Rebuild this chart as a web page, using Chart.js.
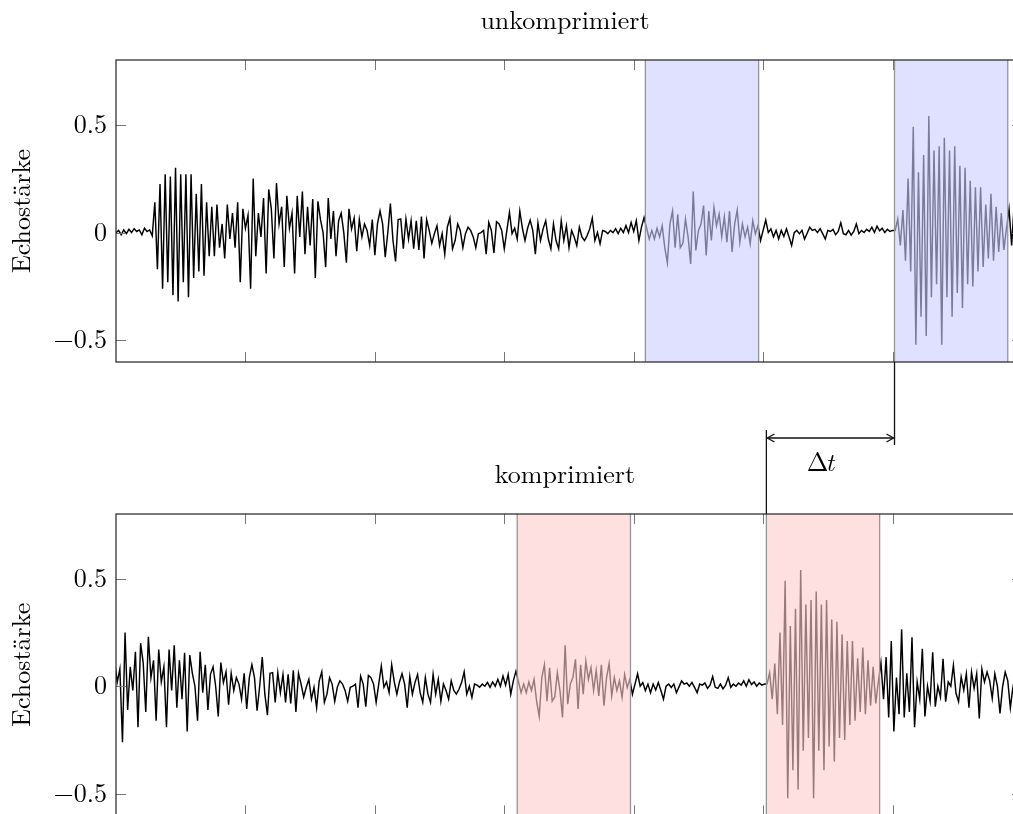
<!DOCTYPE html>
<html>
<head>
<meta charset="utf-8">
<script src="https://cdn.jsdelivr.net/npm/chart.js@4.4.1/dist/chart.umd.min.js"></script>
<style>
html, body { margin:0; padding:0; background:#fff; }
body { width:1013px; height:814px; overflow:hidden; position:relative; }
canvas { position:absolute; left:0; }
#topChart { top:0; }
#bottomChart { top:440px; }
</style>
</head>
<body>
<canvas id="topChart" width="1040" height="520"></canvas>
<canvas id="bottomChart" width="1040" height="400"></canvas>
<script>
// echo signal, one sample every sampleStep (time units of the x axis)
var echoSamples = [
  0, 0.01, -0.01, 0.012, -0.005, 0.015, 0, 0.018, 0.005, 0.012, -0.01, 0.02, 0.005, 0.012, -0.015,
  0.14, -0.17, 0.225, -0.26, 0.27, -0.23, 0.26, -0.29, 0.3, -0.32, 0.27, -0.23, 0.27, -0.3, 0.27, -0.21, 0.18, -0.18, 0.225, -0.2,
  0.14, -0.11, 0.12, -0.11, 0.13, -0.07, 0.04, -0.12, 0.13, -0.03, 0.09, -0.07, 0.14, -0.23, 0.11, 0.02, 0.08, -0.26, 0.25, -0.11,
  0.09, -0.02, 0.16, -0.19, 0.2, 0.11, -0.12, 0.23, 0.04, 0.12, -0.16, 0.17, 0.02, 0.09, -0.19, 0.17, -0.02, 0.19, -0.1, 0.12,
  -0.06, 0.155, -0.21, 0.145, 0.06, 0, -0.16, 0.16, -0.03, 0.1, -0.11, 0.055, 0.09, 0, -0.14, 0.11, 0.017, 0.067, -0.086, 0.06,
  -0.02, 0.04, 0.01, -0.06, 0.06, -0.105, 0.04, 0.1, 0.04, -0.114, 0, 0.135, -0.037, -0.134, 0.06, 0.063, -0.075, 0.063, -0.03, 0.055,
  -0.075, 0.055, -0.08, 0.074, -0.12, 0.06, 0.01, -0.05, -0.005, 0.032, -0.06, -0.005, -0.1, 0.025, 0.067, -0.075, -0.037, 0.04, 0.01, -0.07,
  -0.005, 0.025, 0.01, -0.02, -0.07, -0.005, 0, 0.01, -0.1, 0.047, 0.01, -0.095, 0.05,
  0.04, 0.01, -0.075, 0.01, 0.094, -0.005, 0.02, -0.03, 0.1, 0.02, -0.037, 0.02, 0.058, 0.01, -0.1, 0.045, -0.037, 0.017, 0.055, -0.03,
  -0.075, 0.04, -0.037, -0.075, 0.055, -0.037, 0.032, -0.07, 0.01, -0.02, -0.06, 0.025, -0.02, -0.037, -0.014, 0.017, 0.067, -0.037, 0, -0.052,
  0.01, 0.005, -0.005, 0.01, 0, 0.018, -0.005, 0.02, 0, 0.032, 0, 0.047, 0.005, 0.055, -0.037, 0.025, 0.07,
  0.02, -0.03, 0.01, -0.03, 0.02, -0.02, 0.032, -0.07, -0.14, 0.04, 0.1, -0.07, 0.085,
  -0.07, -0.05, 0.063, -0.02, -0.145, 0.19, -0.083, 0.01, 0.04, 0.125, -0.106, 0.1, -0.037, 0.117, 0.032, 0.086,
  -0.02, 0.074, -0.045, 0.1, -0.09, 0.04, 0.105, -0.045, 0.04, -0.02, 0.025, -0.052, 0.055, -0.006, 0.032, -0.037,
  0.01, 0.058, 0, 0.017, -0.02, 0.01, -0.03, 0.01, -0.018, 0.017, -0.02, -0.06, 0, 0.01, -0.006, 0.01, -0.03, -0.003, 0.025, 0.01,
  0.015, 0, 0.018, -0.005, -0.03, 0.01, 0.005, 0.015, -0.01, 0.005, 0.045, -0.005, -0.01, 0.01, -0.012, 0.005,
  0.04, -0.005, 0.01, 0, 0.015, 0.005, 0.025, 0, 0.03, 0.008, 0.02, 0, 0.015, 0.005, 0.01,
  0.01, 0.063, -0.06, 0.105, -0.13, 0.25, -0.18, 0.49, -0.52, 0.28, -0.39, 0.36, -0.48, 0.54, -0.3, 0.38, -0.24, 0.4, -0.52, 0.44, -0.3, 0.38,
  -0.39, 0.4, -0.28, 0.31, -0.35, 0.3, -0.24, 0.24, -0.25, 0.21, -0.18, 0.21, -0.16, 0.13, -0.12, 0.18, -0.13, 0.12, -0.09, 0.09, -0.08, 0.02,
  0.11, -0.06, 0.135, -0.145, 0.21, -0.21, 0.04, -0.13, 0.265, -0.145, 0.06, -0.12, 0.227, -0.19, 0.02, -0.06, 0.174, -0.14, 0, -0.07,
  0.158, -0.095, 0, -0.05, 0.127, -0.072, 0.02, 0, 0.097, -0.033, -0.072, 0.043, -0.018, 0.058, -0.1, 0.066, -0.01, 0.058, -0.15, 0.08,
  0.02, 0.066, 0.026, -0.057, 0.058, 0, -0.126, -0.003, 0.066, 0.026, -0.1, -0.003, 0.05, -0.04, 0.03, -0.06
];
var sampleStep = 0.2;
var delay = 9.9;                                   // Δt between the two recordings
var echoRegions = [[40.9, 49.65], [60.15, 68.9]];  // marked echoes, uncompressed time
var xTicks = [0, 10, 20, 30, 40, 50, 60, 70];
var yTicks = [-0.5, 0, 0.5];
var plotTitles = ['unkomprimiert', 'komprimiert'];
var yTitle = 'Echostärke';
var deltaLabel = ['Δ', 't'];

var serif = "'Latin Modern Roman', 'Liberation Serif', 'DejaVu Serif', serif";

function fmtTick(v) {
	return v < 0 ? '\u2212' + String(-v) : String(v);
}

function seg(ctx, x0, y0, x1, y1) {
	ctx.beginPath();
	ctx.moveTo(x0, y0);
	ctx.lineTo(x1, y1);
	ctx.stroke();
}

var decor = {
	id: 'echoDecor',
	afterDatasetsDraw: function(chart, args, opts) {
		var ctx = chart.ctx, a = chart.chartArea, xs = chart.scales.x;
		ctx.save();
		opts.regions.forEach(function(r) {
			var x0 = xs.getPixelForValue(r[0]), x1 = xs.getPixelForValue(r[1]);
			ctx.fillStyle = opts.fill;
			ctx.fillRect(x0, a.top, x1 - x0, a.bottom - a.top);
			ctx.strokeStyle = '#959595';
			ctx.lineWidth = 1.3;
			seg(ctx, x0, a.top, x0, a.bottom);
			seg(ctx, x1, a.top, x1, a.bottom);
		});
		ctx.restore();
	},
	afterDraw: function(chart, args, opts) {
		var ctx = chart.ctx, a = chart.chartArea, xs = chart.scales.x, ys = chart.scales.y;
		ctx.save();
		// inward ticks
		ctx.strokeStyle = '#777';
		ctx.lineWidth = 1;
		xTicks.forEach(function(v) {
			if (v <= xs.min || v >= xs.max) return;
			var px = Math.round(xs.getPixelForValue(v)) + 0.5;
			seg(ctx, px, a.top, px, a.top + 10);
			seg(ctx, px, a.bottom - 10, px, a.bottom);
		});
		yTicks.forEach(function(v) {
			var py = Math.round(ys.getPixelForValue(v)) + 0.5;
			seg(ctx, a.left, py, a.left + 10, py);
			seg(ctx, a.right - 10, py, a.right, py);
		});
		// frame
		ctx.strokeStyle = '#222';
		ctx.lineWidth = 1.2;
		ctx.strokeRect(a.left, a.top, a.right - a.left, a.bottom - a.top);
		// plot title
		ctx.fillStyle = '#000';
		ctx.font = '26px ' + serif;
		ctx.textAlign = 'center';
		ctx.textBaseline = 'alphabetic';
		ctx.fillText(opts.title, (a.left + a.right) / 2 - 4, a.top - 31);

		if (opts.delta) {
			var xa = xs.getPixelForValue(echoRegions[1][0]);
			var xb = xs.getPixelForValue(echoRegions[1][0] - delay);
			var ya = a.bottom + 76;
			ctx.strokeStyle = '#111';
			ctx.lineWidth = 1.3;
			seg(ctx, xa, a.bottom, xa, ya + 7);
			seg(ctx, xb, ya - 8, xb, a.bottom + 152);
			seg(ctx, xb + 1, ya, xa - 1, ya);
			ctx.beginPath();
			ctx.moveTo(xb + 8, ya - 4); ctx.lineTo(xb + 1, ya); ctx.lineTo(xb + 8, ya + 4);
			ctx.moveTo(xa - 8, ya - 4); ctx.lineTo(xa - 1, ya); ctx.lineTo(xa - 8, ya + 4);
			ctx.stroke();
			// Δt label
			ctx.textAlign = 'left';
			ctx.font = '26px ' + serif;
			var w1 = ctx.measureText(deltaLabel[0]).width;
			ctx.font = 'italic 26px ' + serif;
			var w2 = ctx.measureText(deltaLabel[1]).width;
			var lx = (xa + xb) / 2 - 10 - (w1 + w2 - 3) / 2;
			ctx.font = '26px ' + serif;
			ctx.fillText(deltaLabel[0], lx, ya + 33);
			ctx.font = 'italic 26px ' + serif;
			ctx.fillText(deltaLabel[1], lx + w1 - 3, ya + 33);
		}
		ctx.restore();
	}
};

function makeChart(id, shift, fill, title, withDelta, padTop, padBottom) {
	var pts = [];
	for (var i in echoSamples) {
		var x = i * sampleStep - shift;
		if (x >= -1 && x <= 71) pts.push({x: x, y: echoSamples[i]});
	}
	var regions = echoRegions.map(function(r) { return [r[0] - shift, r[1] - shift]; });
	return new Chart(document.getElementById(id), {
		type: 'line',
		data: {
			datasets: [{
				data: pts,
				borderColor: '#000',
				borderWidth: 1.45,
				pointRadius: 0,
				tension: 0,
				fill: false
			}]
		},
		options: {
			responsive: false,
			animation: false,
			devicePixelRatio: 1,
			layout: { padding: { top: padTop, right: 18, bottom: padBottom, left: 0 } },
			plugins: {
				legend: { display: false },
				tooltip: { enabled: false },
				echoDecor: { regions: regions, fill: fill, title: title, delta: withDelta }
			},
			scales: {
				x: {
					type: 'linear', min: 0, max: 70,
					grid: { display: false, drawTicks: false },
					border: { display: false },
					ticks: { display: false },
					afterFit: function(s) { s.height = 0; }
				},
				y: {
					min: -0.6, max: 0.8,
					afterBuildTicks: function(s) { s.ticks = yTicks.map(function(v) { return {value: v}; }); },
					afterFit: function(s) { s.width = 116; },
					grid: { display: false, drawTicks: false },
					border: { display: false },
					ticks: { padding: 9, color: '#000', font: { family: serif, size: 26 }, callback: fmtTick },
					title: { display: true, text: yTitle, color: '#000', font: { family: serif, size: 26 }, padding: { top: 6, bottom: 0 } }
				}
			}
		},
		plugins: [decor]
	});
}

// top: uncompressed, bottom: compressed (same echoes arrive delay earlier)
var chartTop = makeChart('topChart', 0, 'rgba(204,204,255,0.6)', plotTitles[0], true, 60, 158);
var chartBottom = makeChart('bottomChart', delay, 'rgba(255,204,204,0.6)', plotTitles[1], false, 74, 24);
</script>
</body>
</html>
